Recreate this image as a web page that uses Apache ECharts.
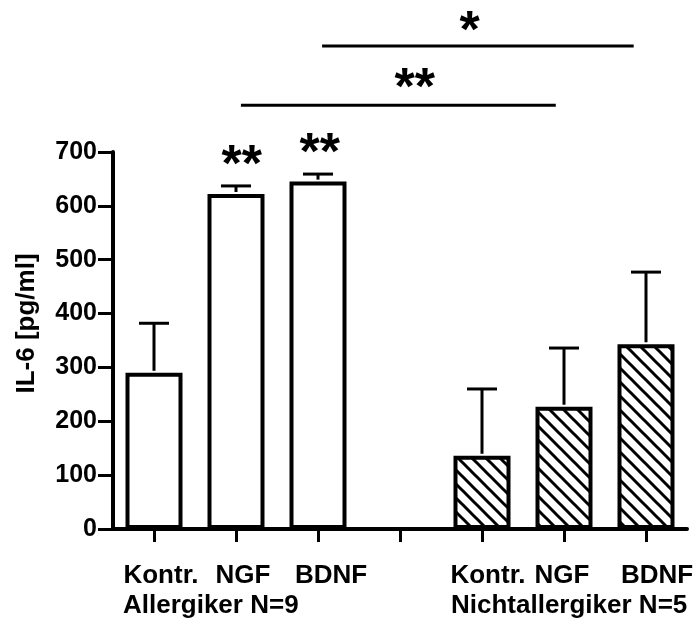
<!DOCTYPE html>
<html>
<head>
<meta charset="utf-8">
<script src="https://cdn.jsdelivr.net/npm/echarts@6/dist/echarts.min.js"></script>
<style>
html,body{margin:0;padding:0;background:#fff;}
#c{width:700px;height:623px;}
</style>
</head>
<body>
<div id="c"></div>
<script>
// ---- data ----
const categories = ['Kontr.', 'NGF', 'BDNF', '', 'Kontr.', 'NGF', 'BDNF'];
const allergikerValues = [290, 622, 645, null, null, null, null];
const nichtallergikerValues = [null, null, null, null, 136, 227, 343];
const errorTops = [382, 637, 659, null, 260, 336, 477];
const yTicks = [0, 100, 200, 300, 400, 500, 600, 700];
const groupLabels = ['Allergiker N=9', 'Nichtallergiker N=5'];
const groupStartIndex = [0, 4];
// significance brackets: [fromX, toX, y] in axis units
const sigLines = [[2.05, 5.85, 897], [1.06, 4.90, 787]];
// star labels: [x, y, text]
const sigStars = [[3.85, 941, '*'], [3.18, 834, '**'], [1.07, 691, '**'], [2.02, 713, '**']];
// label horizontal shifts (px) to match reference placement
const labelShift = [7, 7, 13, 0, 6, -2, 11];

const FONT = '"Liberation Sans", Arial, Helvetica, sans-serif';

function makeHatch() {
  const p = 14;
  const cv = document.createElement('canvas');
  cv.width = p; cv.height = p;
  const ctx = cv.getContext('2d');
  ctx.fillStyle = '#fff';
  ctx.fillRect(0, 0, p, p);
  ctx.strokeStyle = '#000';
  ctx.lineWidth = 3;
  for (let k = -1; k <= 1; k++) {
    ctx.beginPath();
    ctx.moveTo(-3, -3 + k * p);
    ctx.lineTo(p + 3, p + 3 + k * p);
    ctx.stroke();
  }
  return cv;
}

const chart = echarts.init(document.getElementById('c'));

const rich = {};
labelShift.forEach((s, i) => {
  rich['s' + i] = {
    fontFamily: FONT, fontWeight: 'bold', fontSize: 26, color: '#000',
    padding: s >= 0 ? [0, 0, 0, 2 * s] : [0, -2 * s, 0, 0]
  };
});

const option = {
  animation: false,
  backgroundColor: '#fff',
  grid: { left: 113, right: 13, top: 152, bottom: 94, containLabel: false, outerBoundsMode: 'none' },
  xAxis: [{
    type: 'category',
    data: categories,
    axisLine: { show: true, onZero: false, lineStyle: { color: '#000', width: 4 } },
    axisTick: { show: true, alignWithLabel: true, interval: 0, length: 13, lineStyle: { color: '#000', width: 3 } },
    axisLabel: {
      interval: 0, margin: 34,
      formatter: (v, i) => '{s' + i + '|' + v + '}',
      rich: rich
    },
    splitLine: { show: false }
  }, {
    type: 'value', min: -0.5, max: 6.5, show: false
  }],
  yAxis: {
    type: 'value', min: 0, max: 700, interval: 100,
    name: 'IL-6 [pg/ml]',
    nameLocation: 'middle',
    nameGap: 73,
    nameRotate: 90,
    nameTextStyle: { fontFamily: FONT, fontWeight: 'bold', fontSize: 26, color: '#000', padding: [0, 0, 0, 34] },
    axisLine: { show: true, onZero: false, lineStyle: { color: '#000', width: 4 } },
    axisTick: { show: true, length: 15, lineStyle: { color: '#000', width: 3 } },
    axisLabel: {
      margin: 16, fontFamily: FONT, fontWeight: 'bold', fontSize: 25, color: '#000',
      formatter: v => yTicks.includes(v) ? String(v) : ''
    },
    splitLine: { show: false }
  },
  series: [{
    type: 'bar',
    data: allergikerValues,
    barWidth: 57,
    barGap: '-100%',
    itemStyle: { color: '#fff', borderColor: '#000', borderWidth: 4 },
    z: 2
  }, {
    type: 'bar',
    data: nichtallergikerValues,
    barWidth: 57,
    barGap: '-100%',
    itemStyle: { color: { image: makeHatch(), repeat: 'repeat' }, borderColor: '#000', borderWidth: 4 },
    z: 2
  }, {
    type: 'custom',
    data: categories.map((c, i) => [i, allergikerValues[i] != null ? allergikerValues[i] : nichtallergikerValues[i], errorTops[i]]),
    encode: { x: 0, y: [1, 2] },
    z: 3,
    renderItem: (params, api) => {
      const v = api.value(1), e = api.value(2);
      if (isNaN(v) || isNaN(e)) return null;
      const b = api.coord([api.value(0), v]);
      const t = api.coord([api.value(0), e]);
      const hw = 15;
      return {
        type: 'group',
        children: [{
          type: 'line', shape: { x1: b[0], y1: b[1] - 2, x2: t[0], y2: t[1] },
          style: { stroke: '#000', lineWidth: 3 }
        }, {
          type: 'line', shape: { x1: t[0] - hw, y1: t[1], x2: t[0] + hw, y2: t[1] },
          style: { stroke: '#000', lineWidth: 3 }
        }]
      };
    }
  }, {
    type: 'custom',
    xAxisIndex: 1,
    data: sigLines,
    encode: { x: [0, 1], y: 2 },
    clip: false,
    renderItem: (params, api) => {
      const a = api.coord([api.value(0), api.value(2)]);
      const b = api.coord([api.value(1), api.value(2)]);
      return {
        type: 'line', shape: { x1: a[0], y1: a[1], x2: b[0], y2: b[1] },
        style: { stroke: '#000', lineWidth: 3 }
      };
    }
  }, {
    type: 'custom',
    xAxisIndex: 1,
    data: sigStars,
    encode: { x: 0, y: 1 },
    clip: false,
    renderItem: (params, api) => {
      const p = api.coord([api.value(0), api.value(1)]);
      return {
        type: 'text', x: p[0], y: p[1] + 10,
        style: {
          text: sigStars[params.dataIndex][2],
          font: 'bold 52px ' + FONT, fill: '#000',
          align: 'center', verticalAlign: 'middle'
        }
      };
    }
  }]
};

chart.setOption(option);

// group labels positioned from category axis
const graphics = groupLabels.map((g, k) => {
  const cx = chart.convertToPixel({ xAxisIndex: 0 }, groupStartIndex[k]);
  const y0 = chart.convertToPixel({ yAxisIndex: 0 }, 0);
  return {
    type: 'text', x: cx - 31, y: y0 + 77,
    style: { text: g, font: 'bold 26px ' + FONT, fill: '#000', align: 'left', verticalAlign: 'middle' }
  };
});
chart.setOption({ graphic: graphics });
</script>
</body>
</html>
